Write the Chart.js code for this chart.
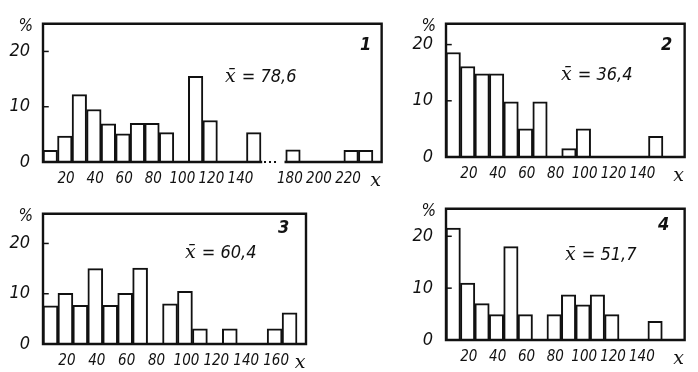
<!DOCTYPE html>
<html>
<head>
<meta charset="utf-8">
<script src="https://cdn.jsdelivr.net/npm/chart.js@4.4.1/dist/chart.umd.min.js"></script>
<style>
  body { margin: 0; background: #fff; width: 698px; height: 372px; position: relative; overflow: hidden; }
  canvas { position: absolute; }
</style>
</head>
<body>
<canvas id="c1" width="395" height="190" style="left:0;top:0"></canvas>
<canvas id="c2" width="298" height="190" style="left:400px;top:0"></canvas>
<canvas id="c3" width="320" height="182" style="left:0;top:190px"></canvas>
<canvas id="c4" width="298" height="187" style="left:400px;top:185px"></canvas>
<script>
// bin starts (width 10) and share of cases, %
var bins1 = [0, 10, 20, 30, 40, 50, 60, 70, 80, 90, 100, 110, 120, 130, 140, 180, 190, 200, 210, 220, 230];
var pct1 = [2.1, 4.7, 12.2, 9.5, 6.9, 5.1, 7.0, 7.0, 5.3, 0, 15.5, 7.5, 0, 0, 5.3, 2.2, 0, 0, 0, 2.1, 2.1];
var ticks1 = [20, 40, 60, 80, 100, 120, 140, 180, 200, 220];
var mean1 = '78,6';

var bins2 = [0, 10, 20, 30, 40, 50, 60, 70, 80, 90, 100, 110, 120, 130, 140];
var pct2 = [18.6, 16.1, 14.8, 14.8, 9.8, 5.0, 9.8, 0, 1.5, 5.0, 0, 0, 0, 0, 3.7];
var ticks2 = [20, 40, 60, 80, 100, 120, 140];
var mean2 = '36,4';

var bins3 = [0, 10, 20, 30, 40, 50, 60, 70, 80, 90, 100, 110, 120, 130, 140, 150, 160];
var pct3 = [7.6, 10.1, 7.7, 15.0, 7.7, 10.1, 15.1, 0, 8.0, 10.5, 3.0, 0, 3.0, 0, 0, 3.0, 6.2];
var ticks3 = [20, 40, 60, 80, 100, 120, 140, 160];
var mean3 = '60,4';

var bins4 = [0, 10, 20, 30, 40, 50, 60, 70, 80, 90, 100, 110, 120, 130, 140];
var pct4 = [21.6, 11.0, 7.0, 4.9, 18.0, 4.9, 0, 4.9, 8.7, 6.8, 8.7, 4.9, 0, 0, 3.6];
var ticks4 = [20, 40, 60, 80, 100, 120, 140];
var mean4 = '51,7';

var yTicks = [0, 10, 20];

var cond = "'DejaVu Sans Condensed', 'Liberation Sans Narrow', sans-serif";
var serif = "'DejaVu Serif', 'Liberation Serif', serif";
var ink = '#111';

var framePlugin = {
  id: 'frame',
  afterDraw: (chart, args, o) => {
    var ctx = chart.ctx, a = chart.chartArea, x = chart.scales.x, y = chart.scales.y;
    ctx.save();
    ctx.strokeStyle = ink;
    ctx.fillStyle = ink;
    ctx.lineWidth = 2.4;
    ctx.lineCap = 'square';
    ctx.beginPath();
    ctx.moveTo(a.left, a.bottom);
    ctx.lineTo(a.left, a.top);
    ctx.lineTo(a.right, a.top);
    ctx.lineTo(a.right, a.bottom);
    if (o.gapFrom !== undefined) {
      var g1 = x.getPixelForValue(o.gapFrom), g2 = x.getPixelForValue(o.gapTo);
      ctx.lineTo(g2, a.bottom);
      ctx.moveTo(g1, a.bottom);
      ctx.lineTo(a.left, a.bottom);
      ctx.stroke();
      for (var k = 0; k < 3; k++) ctx.fillRect(g1 + 3 + k * 5, a.bottom - 1, 2, 2);
    } else {
      ctx.closePath();
      ctx.stroke();
    }
    // small inward ticks on the y axis
    ctx.lineWidth = 1.5;
    yTicks.slice(1).forEach(v => {
      var py = y.getPixelForValue(v);
      ctx.beginPath();
      ctx.moveTo(a.left, py);
      ctx.lineTo(a.left + 5, py);
      ctx.stroke();
    });
    // % sign
    ctx.font = 'italic 17px ' + cond;
    ctx.textAlign = 'right';
    ctx.textBaseline = 'alphabetic';
    ctx.fillText('%', a.left - 10, a.top + 7);
    // mean value
    ctx.textAlign = 'left';
    ctx.font = 'italic 19px ' + serif;
    ctx.fillText('x\u0304', o.meanX, o.meanY);
    var w = ctx.measureText('x\u0304').width;
    ctx.font = 'italic 18px ' + cond;
    ctx.fillText('= ' + o.mean, o.meanX + w + 6, o.meanY);
    // panel number
    ctx.font = 'italic bold 18px ' + cond;
    ctx.fillText(o.num, o.numX, o.numY);
    ctx.restore();
  }
};

function drawPanel(id, bins, pct, tickVals, o) {
  var disp = v => (o.breakAt !== undefined && v >= o.breakAt ? v - o.breakGap : v);
  var tickPos = v => disp(v) + (o.breakAt !== undefined && v >= o.breakAt ? o.labelShift : 0);
  var labels = tickVals.map(String).concat(['x']);
  new Chart(document.getElementById(id), {
    type: 'bar',
    data: {
      datasets: [{
        data: bins.map((b, i) => ({ x: disp(b) + 5, y: pct[i] })),
        backgroundColor: '#fff',
        borderColor: ink,
        borderWidth: 2,
        barPercentage: 1,
        categoryPercentage: 1
      }]
    },
    options: {
      responsive: false,
      animation: false,
      events: [],
      layout: { padding: { left: 0, top: o.top, right: o.right, bottom: 0 } },
      plugins: {
        legend: { display: false },
        tooltip: { enabled: false },
        frame: {
          mean: o.mean, num: o.num, meanX: o.meanX, meanY: o.meanY, numX: o.numX, numY: o.numY,
          gapFrom: o.breakAt !== undefined ? disp(o.breakFrom) : undefined,
          gapTo: o.breakAt !== undefined ? disp(o.breakAt) : undefined
        }
      },
      scales: {
        x: {
          type: 'linear', offset: false, min: 0, max: o.xMax,
          grid: { display: false, drawTicks: false },
          border: { display: false },
          afterBuildTicks: s => { s.ticks = tickVals.map(v => ({ value: tickPos(v) })).concat([{ value: o.xMax }]); },
          afterFit: s => { s.height = o.xH; },
          ticks: {
            autoSkip: false, maxRotation: 0, padding: 8, labelOffset: -6, color: ink,
            callback: (v, i) => labels[i],
            font: c => c.index === tickVals.length
              ? { family: serif, style: 'italic', size: 19 }
              : { family: cond, style: 'italic', size: 15 }
          }
        },
        y: {
          min: 0, max: o.yMax,
          grid: { display: false, drawTicks: false },
          border: { display: false },
          afterBuildTicks: s => { s.ticks = yTicks.map(v => ({ value: v })); },
          afterFit: s => { s.width = o.yW; },
          ticks: { padding: 13, color: ink, font: { family: cond, style: 'italic', size: 18 }, callback: v => String(v) }
        }
      }
    },
    plugins: [framePlugin]
  });
}

drawPanel('c1', bins1, pct1, ticks1, {
  top: 21, right: 11, yW: 43, xH: 28, xMax: 233, yMax: 25,
  breakFrom: 150, breakAt: 180, breakGap: 13, labelShift: 7,
  mean: mean1, num: '1', meanX: 225, meanY: 82, numX: 360, numY: 50
});
drawPanel('c2', bins2, pct2, ticks2, {
  top: 20, right: 6, yW: 46, xH: 33, xMax: 165, yMax: 23.7,
  mean: mean2, num: '2', meanX: 161, meanY: 80, numX: 261, numY: 50
});
drawPanel('c3', bins3, pct3, ticks3, {
  top: 10, right: 14, yW: 43, xH: 28, xMax: 176, yMax: 25.9,
  mean: mean3, num: '3', meanX: 185, meanY: 68, numX: 278, numY: 43
});
drawPanel('c4', bins4, pct4, ticks4, {
  top: 13, right: 6, yW: 46, xH: 32, xMax: 165.5, yMax: 25.3,
  mean: mean4, num: '4', meanX: 165, meanY: 75, numX: 258, numY: 45
});
</script>
</body>
</html>
